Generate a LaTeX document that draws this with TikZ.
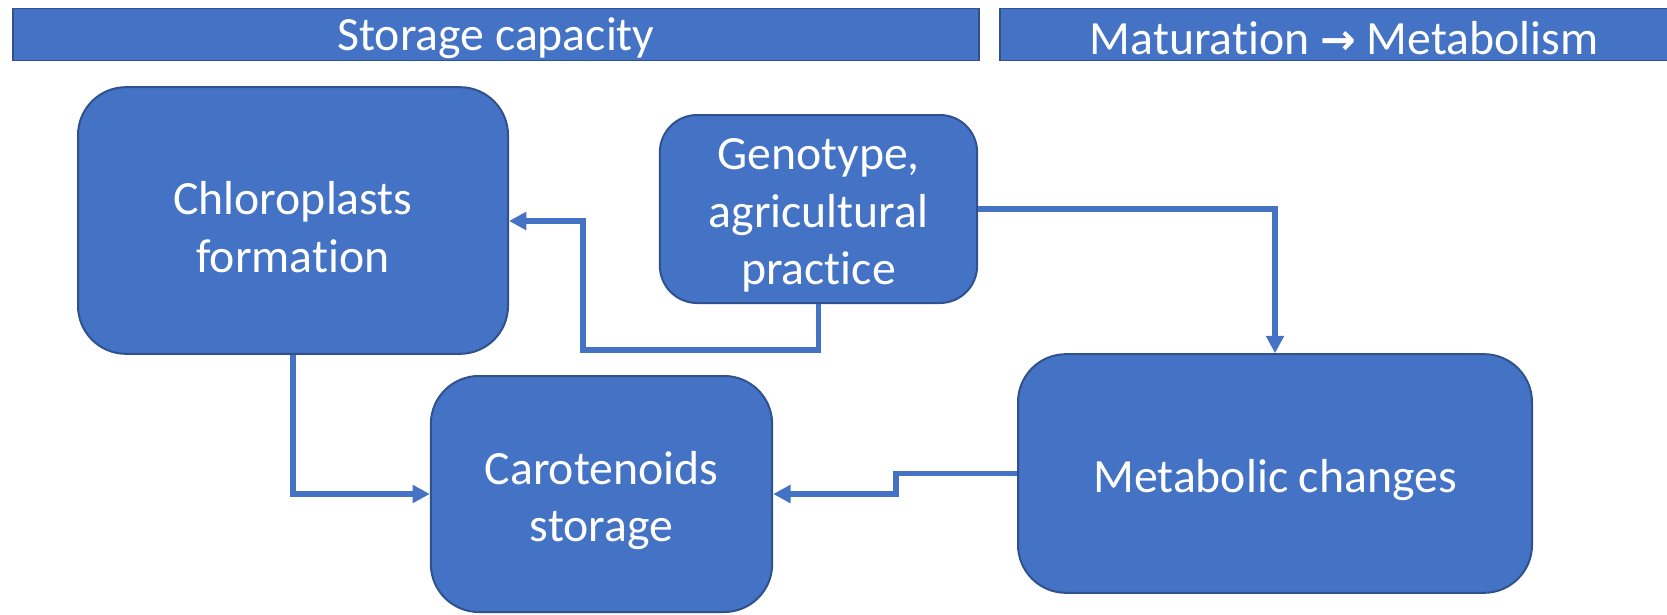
\documentclass[tikz,border=0pt]{standalone}
\usepackage{fontspec}
\setmainfont[RawFeature=-liga]{Carlito}
\newfontfamily\arrowfont{DejaVu Sans}
\usetikzlibrary{arrows.meta}
\definecolor{boxblue}{HTML}{4472C4}
\definecolor{edgeblue}{HTML}{2F528F}
\begin{document}
\begin{tikzpicture}[x=0.75pt,y=-0.75pt,
  box/.style={rectangle,draw=edgeblue,line width=1.5pt,fill=boxblue,inner sep=0pt},
  boxtext/.style={text=white,align=center,inner sep=0pt,yshift=-5pt,
    font=\fontsize{35.8}{43}\selectfont},
  header/.style={rectangle,draw=edgeblue,line width=1.2pt,fill=boxblue,
    inner sep=0pt,minimum height=39pt},
  headtext/.style={text=white,inner sep=0pt,yshift=-2.5pt,font=\fontsize{35.8}{40}\selectfont},
  conn/.style={draw=boxblue,line width=4pt,-{Triangle[length=13pt,width=13pt]}}]
\useasboundingbox (0,0) rectangle (1667,614);

% headers
\node[header,minimum width=724.5pt,label={[headtext]center:Storage capacity}] (hstore) at (496,34.5) {};
\node[header,minimum width=516pt,
  label={[headtext]center:{Maturation {\arrowfont\bfseries\fontsize{32}{36}\selectfont →} Metabolism}}] (hmat) at (1344,34.5) {};

% process boxes
\node[box,rounded corners=36pt,minimum width=322.5pt,minimum height=200pt,
  label={[boxtext]center:{Chloroplasts\\formation}}] (chloro) at (293,220.5) {};
\node[box,rounded corners=28pt,minimum width=238pt,minimum height=141pt,
  label={[boxtext]center:{Genotype,\\agricultural\\practice}}] (geno) at (818.5,209) {};
\node[box,rounded corners=36pt,minimum width=256pt,minimum height=177pt,
  label={[boxtext]center:{Carotenoids\\storage}}] (carot) at (601.5,494) {};
\node[box,rounded corners=36pt,minimum width=385.5pt,minimum height=179pt,
  label={[boxtext]center:{Metabolic changes}}] (metab) at (1275,473.5) {};

% connectors
\draw[conn] (geno.south) -- (geno.south |- 0,350) -- (583,350) -- (583,221) -- (chloro.east |- 0,221);
\draw[conn] (geno.east) -| (metab.north);
\draw[conn] (chloro.south) |- (carot.west);
\draw[conn] (metab.west) -| (896,484) |- (carot.east);
\end{tikzpicture}
\end{document}
